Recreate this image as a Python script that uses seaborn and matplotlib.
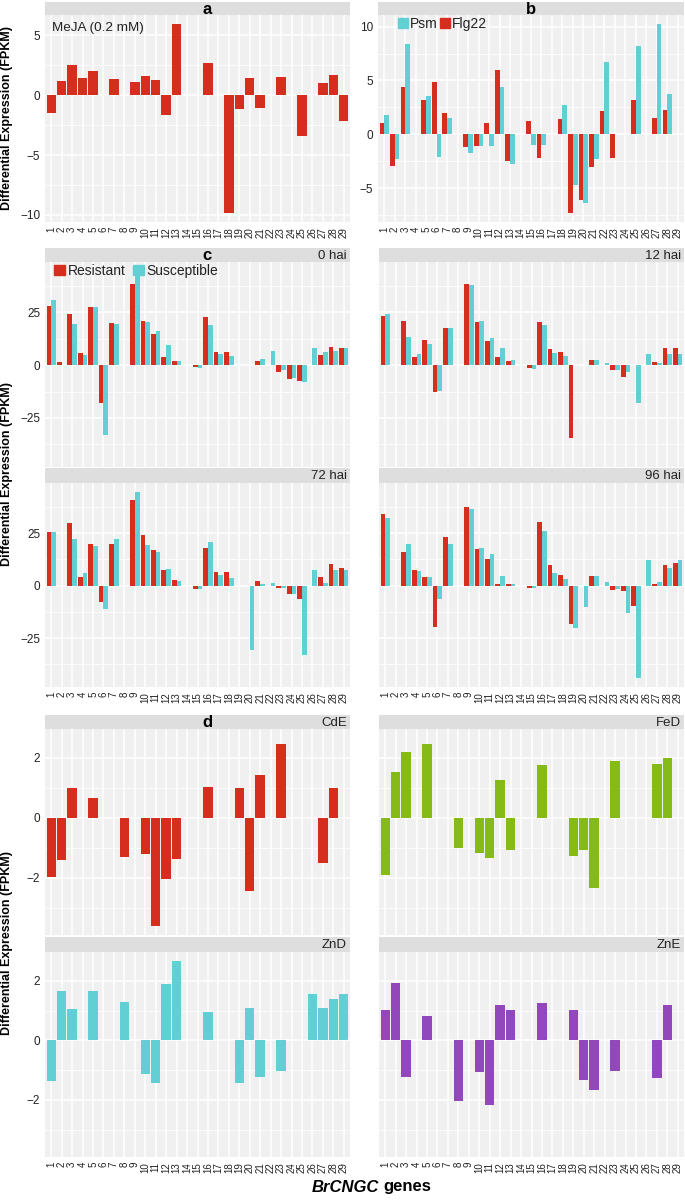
import numpy as np
import pandas as pd
import matplotlib
matplotlib.use("Agg")
import matplotlib.pyplot as plt
import seaborn as sns
from matplotlib.patches import Patch
from matplotlib.ticker import FixedLocator

sns.set_style("white")
plt.rcParams['font.family'] = ['Liberation Sans', 'DejaVu Sans']

N = None
genes = [str(i) for i in range(1, 30)]

# Panel a: MeJA
meja = [-1.48, 1.2, 2.54, 1.42, 2.04, N, 1.34, N, 1.09, 1.56, 1.23, -1.65, 5.89, N, N,
        2.71, N, -9.8, -1.15, 1.45, -1.09, N, 1.48, N, -3.41, N, 1.03, 1.65, -2.2]

# Panel b: Flg22 / Psm
flg22 = [1.08, -2.93, 4.38, N, 3.18, 4.88, 2.0, N, -1.14, -1.08, 1.08, 6.0, -2.47, N, 1.27,
         -2.16, N, 1.39, -7.25, -6.08, -2.99, 2.2, -2.16, N, 3.15, N, 1.54, 2.22, N]
psm = [1.76, -2.25, 8.4, N, 3.6, -2.07, 1.54, N, -1.7, -1.08, -1.08, 4.38, -2.7, N, -1.02,
       -0.96, N, 2.69, -4.72, -6.39, -2.25, 6.7, N, N, 8.24, N, 10.2, 3.77, N]

# Panel c: Resistant / Susceptible at time points
res_0 = [28.1, 1.5, 24.0, 5.6, 27.5, -18.0, 19.9, N, 38.4, 20.8, 14.7, 3.8, 2.1, N, -1.1,
         23.0, 6.0, 6.4, N, N, 2.1, N, -3.1, -6.5, -7.4, N, 4.7, 8.7, 8.3]
sus_0 = [30.7, N, 19.4, 4.9, 27.5, -33.2, 19.4, N, 42.2, 20.3, 16.2, 9.6, 2.0, N, -1.3,
         18.8, 5.2, 4.1, N, N, 3.0, 6.5, -2.5, -6.2, -8.2, 8.0, 6.4, 6.7, 8.0]
res_12 = [23.2, N, 21.1, 3.9, 11.9, -12.7, 17.5, N, 38.4, 20.3, 11.6, 3.9, 1.8, N, -1.5,
          20.4, 7.4, 6.2, -34.6, N, 2.5, N, -2.1, -5.6, N, N, 1.3, 8.0, 8.0]
sus_12 = [24.0, N, 13.4, 5.4, 10.1, -12.3, 17.6, N, 37.7, 21.1, 12.7, 8.3, 2.5, N, -1.6,
          19.0, 5.9, 4.1, N, N, 2.6, 1.1, -2.3, -3.4, -18.0, 5.4, 1.1, 5.1, 5.4]
res_72 = [25.5, N, 29.6, 4.0, 20.0, -7.9, 20.0, N, 40.9, 24.2, 16.8, 7.4, 2.7, N, -1.8,
          17.8, 6.7, 6.7, N, N, 2.2, N, -1.0, -4.0, -6.2, N, 4.2, 10.1, 8.5]
sus_72 = [25.6, N, 22.1, 6.2, 18.9, -11.2, 22.3, N, 44.4, 19.1, 16.0, 7.9, 2.4, N, -1.4,
          20.7, 5.1, 3.7, N, -30.8, 1.0, 1.1, -1.1, -4.2, -32.9, 7.5, 1.1, 7.4, 7.5]
res_96 = [34.0, N, 16.2, 7.5, 4.0, -19.8, 22.9, N, 37.5, 17.5, 12.7, 1.0, 0.8, N, -1.1,
          30.2, 9.8, 4.9, -18.1, N, 4.6, N, -2.1, -2.7, -9.7, N, 0.8, 9.8, 10.6]
sus_96 = [32.2, N, 19.7, 7.1, 4.3, -6.5, 19.8, N, 36.3, 17.9, 14.9, 4.6, 1.0, N, -1.3,
          25.9, 6.0, 3.2, -20.3, -10.3, 4.6, 1.6, -1.4, -13.0, -43.8, 12.1, 1.6, 8.6, 12.1]

# Panel d: metal treatments
cde = [-1.97, -1.42, 1.0, N, 0.66, N, N, -1.31, N, -1.22, -3.6, -2.04, -1.37, N, N,
       1.03, N, N, 1.0, -2.45, 1.42, N, 2.45, N, N, N, -1.51, 1.0, N]
fed = [-1.91, 1.52, 2.21, N, 2.46, N, N, -1.01, N, -1.16, -1.35, 1.27, -1.06, N, N,
       1.75, N, N, -1.29, -1.07, -2.33, N, 1.9, N, N, N, 1.79, 1.98, N]
znd = [-1.35, 1.66, 1.04, N, 1.67, N, N, 1.28, N, -1.12, -1.43, 1.9, 2.65, N, N,
       0.96, N, N, -1.43, 1.07, -1.24, N, -1.02, N, N, 1.54, 1.1, 1.38, 1.54]
zne = [1.03, 1.92, -1.24, N, 0.83, N, N, -2.02, N, -1.06, -2.17, 1.19, 1.01, N, N,
       1.25, N, N, 1.01, -1.34, -1.67, N, -1.03, N, N, N, -1.26, 1.18, N]

RED = "#D52D1E"
CYAN = "#62CFD5"
GREEN = "#86BA16"
PURPLE = "#9248BC"
PANEL_BG = "#F0F0F0"
STRIP_BG = "#DFDEDE"
TICK_C = "#555555"
TXT_C = "#222222"

W, H = 685, 1204
fig = plt.figure(figsize=(W / 100, H / 100), dpi=100)


def box(x0, y0, x1, y1):
    return [x0 / W, 1 - y1 / H, (x1 - x0) / W, (y1 - y0) / H]


def lims(*series):
    vals = [v for s in series for v in s if v is not None] + [0]
    lo, hi = min(vals), max(vals)
    r = hi - lo
    return lo - 0.05 * r, hi + 0.05 * r


def bars(ax, series, palette, dodge):
    rows = []
    for name, vals in series:
        for g, v in zip(genes, vals):
            if v is not None:
                rows.append((g, v, name))
    df = pd.DataFrame(rows, columns=["gene", "value", "series"])
    sns.barplot(data=df, x="gene", y="value", hue="series", order=genes,
                hue_order=[n for n, _ in series], palette=palette, dodge=dodge,
                width=0.9, errorbar=None, saturation=1, linewidth=0,
                legend=False, ax=ax)


def style(ax, ylim, yticks, show_x, show_y):
    ax.set_facecolor(PANEL_BG)
    for s in ax.spines.values():
        s.set_visible(False)
    ax.set_xlim(-0.6, 28.6)
    ax.set_ylim(*ylim)
    ax.set_xlabel("")
    ax.set_ylabel("")
    ax.set_xticks(range(29))
    ax.yaxis.set_major_locator(FixedLocator(yticks))
    step = yticks[1] - yticks[0]
    minors = np.arange(yticks[0] - step * 2.5, yticks[-1] + step * 3, step)
    ax.yaxis.set_minor_locator(FixedLocator(minors))
    ax.grid(which="major", color="white", lw=1.1)
    ax.grid(which="minor", axis="y", color="white", lw=0.55)
    ax.set_axisbelow(True)
    ax.tick_params(which="minor", length=0)
    if show_x:
        ax.set_xticklabels(genes, rotation=90, fontsize=7, color=TXT_C)
        ax.tick_params(axis="x", length=2.5, width=0.6, color=TICK_C, pad=1)
    else:
        ax.tick_params(axis="x", length=0, labelbottom=False)
    if show_y:
        ax.set_yticklabels([f"{t:g}".replace("-", "\u2212") for t in yticks],
                           fontsize=8.5, color=TXT_C)
        ax.tick_params(axis="y", length=2.5, width=0.6, color=TICK_C, pad=1)
    else:
        ax.tick_params(axis="y", length=0, labelleft=False)


def strip(x0, y0, x1, y1, right=None, letter=None, letter_x=None):
    s = fig.add_axes(box(x0, y0, x1, y1))
    s.set_facecolor(STRIP_BG)
    s.set_xticks([])
    s.set_yticks([])
    for sp in s.spines.values():
        sp.set_visible(False)
    s.set_xlim(x0, x1)
    s.set_ylim(0, 1)
    if right:
        s.text(x1 - 3, 0.45, right, ha="right", va="center", fontsize=9.5, color=TXT_C)
    if letter:
        lx = letter_x if letter_x is not None else (x0 + x1) / 2
        s.text(lx, 0.45, letter, ha="center", va="center", fontsize=12,
               fontweight="bold", color="black")


def ylabel(yc):
    fig.text(7 / W, 1 - yc / H, "Differential Expression (FPKM)", rotation=90,
             ha="center", va="center", fontsize=9, fontweight="bold", color="black")


# ---------------- Panel a ----------------
axa = fig.add_axes(box(45, 15, 350, 222))
bars(axa, [("MeJA", meja)], {"MeJA": RED}, False)
style(axa, lims(meja), [-10, -5, 0, 5], True, True)
axa.text(7 / 305, 1 - 13 / 207, "MeJA (0.2 mM)", transform=axa.transAxes,
         ha="left", va="center", fontsize=9.7, color=TXT_C)
strip(45, 2, 350, 15, letter="a", letter_x=207)
ylabel(118)

# ---------------- Panel b ----------------
axb = fig.add_axes(box(378, 15, 684, 222))
bars(axb, [("Flg22", flg22), ("Psm", psm)], {"Flg22": RED, "Psm": CYAN}, True)
style(axb, lims(flg22, psm), [-5, 0, 5, 10], True, True)
axb.legend(handles=[Patch(color=CYAN, label="Psm"), Patch(color=RED, label="Flg22")],
           loc="upper left", bbox_to_anchor=(20 / 306, 1 - 2 / 207), ncol=2,
           frameon=False, handlelength=0.7, handleheight=0.7, handletextpad=0.15,
           columnspacing=0.2, borderaxespad=0, borderpad=0, fontsize=10,
           labelcolor=TXT_C)
strip(378, 2, 684, 15, letter="b")

# ---------------- Panel c ----------------
c_lim = lims(res_0, sus_0, res_12, sus_12, res_72, sus_72, res_96, sus_96)
c_cells = [
    ((45, 262, 350, 467), (45, 248, 350, 262), "0 hai", res_0, sus_0, False, True),
    ((379, 262, 684, 467), (379, 248, 684, 262), "12 hai", res_12, sus_12, False, False),
    ((45, 483, 350, 687), (45, 468, 350, 483), "72 hai", res_72, sus_72, True, True),
    ((379, 483, 684, 687), (379, 468, 684, 483), "96 hai", res_96, sus_96, True, False),
]
for i, (pb, sb, lab, r, s, sx, sy) in enumerate(c_cells):
    ax = fig.add_axes(box(*pb))
    bars(ax, [("Resistant", r), ("Susceptible", s)],
         {"Resistant": RED, "Susceptible": CYAN}, True)
    style(ax, c_lim, [-25, 0, 25], sx, sy)
    if i == 0:
        ax.legend(handles=[Patch(color=RED, label="Resistant"),
                           Patch(color=CYAN, label="Susceptible")],
                  loc="upper left", bbox_to_anchor=(9 / 305, 1 - 2 / 205), ncol=2,
                  frameon=False, handlelength=0.8, handleheight=0.8,
                  handletextpad=0.2, columnspacing=0.5, borderaxespad=0,
                  borderpad=0, fontsize=10, labelcolor=TXT_C)
        strip(*sb, right=lab, letter="c", letter_x=207)
    else:
        strip(*sb, right=lab)
ylabel(474)

# ---------------- Panel d ----------------
d_lim = lims(cde, fed, znd, zne)
d_cells = [
    ((45, 729, 350, 935), (45, 715, 350, 729), "CdE", cde, RED, False, True),
    ((379, 729, 684, 935), (379, 715, 684, 729), "FeD", fed, GREEN, False, False),
    ((45, 952, 350, 1157), (45, 937, 350, 952), "ZnD", znd, CYAN, True, True),
    ((379, 952, 684, 1157), (379, 937, 684, 952), "ZnE", zne, PURPLE, True, False),
]
for i, (pb, sb, lab, vals, col, sx, sy) in enumerate(d_cells):
    ax = fig.add_axes(box(*pb))
    bars(ax, [(lab, vals)], {lab: col}, False)
    style(ax, d_lim, [-2, 0, 2], sx, sy)
    if i == 0:
        strip(*sb, right=lab, letter="d", letter_x=207)
    else:
        strip(*sb, right=lab)
ylabel(943)

fig.text(379 / W, 1 - 1187 / H, "BrCNGC", ha="right", va="center", fontsize=12,
         fontweight="bold", fontstyle="italic", color="black")
fig.text(383 / W, 1 - 1187 / H, "genes", ha="left", va="center", fontsize=12,
         fontweight="bold", color="black")

fig.savefig("out.png", dpi=100)
